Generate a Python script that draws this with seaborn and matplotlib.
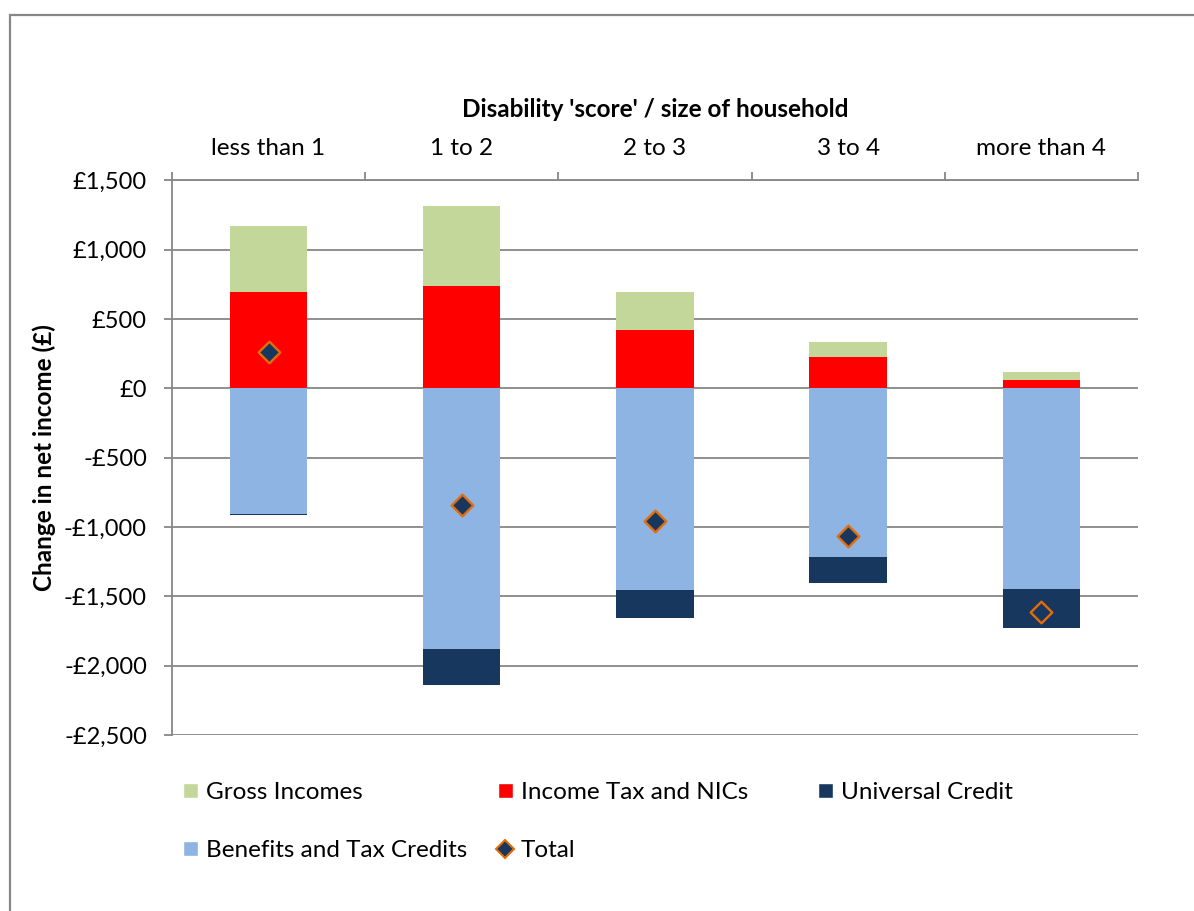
import matplotlib
matplotlib.use("Agg")
import matplotlib.pyplot as plt
import numpy as np
import seaborn as sns
from matplotlib.lines import Line2D
from matplotlib.patches import Patch, Rectangle
from matplotlib.ticker import FuncFormatter

# values (GBP per household)
categories = ["less than 1", "1 to 2", "2 to 3", "3 to 4", "more than 4"]
gross_incomes = [480, 576, 276, 113, 57]
income_tax_nics = [693, 736, 422, 225, 60]
benefits_tax_credits = [-906, -1882, -1453, -1218, -1446]
universal_credit = [-8, -259, -202, -182, -278]
total = [261, -839, -959, -1065, -1609]

GREEN = "#C4D79B"
RED = "#FF0000"
BLUE = "#8DB4E2"
NAVY = "#17375E"
ORANGE = "#E46C0A"
GRID = "#878787"

sns.set_style("white")
plt.rcParams["font.family"] = ["Lato", "DejaVu Sans"]
plt.rcParams["text.color"] = "black"
plt.rcParams["xtick.color"] = "black"
plt.rcParams["ytick.color"] = "black"
plt.rcParams["axes.labelcolor"] = "black"

fig = plt.figure(figsize=(11.94, 9.11), dpi=100)
ax = fig.add_axes([0.144, 0.193, 0.809, 0.609])

# stacked bars: draw cumulative heights first, then the inner segment on top
pos_top = np.array(income_tax_nics) + np.array(gross_incomes)
neg_bottom = np.array(benefits_tax_credits) + np.array(universal_credit)

bar_kw = dict(width=0.4, saturation=1, errorbar=None, ax=ax, linewidth=0)
sns.barplot(x=categories, y=pos_top, color=GREEN, **bar_kw)
sns.barplot(x=categories, y=income_tax_nics, color=RED, **bar_kw)
sns.barplot(x=categories, y=neg_bottom, color=NAVY, **bar_kw)
sns.barplot(x=categories, y=benefits_tax_credits, color=BLUE, **bar_kw)

sns.stripplot(x=categories, y=total, jitter=False, marker="D", size=11,
              color=NAVY, edgecolor=ORANGE, linewidth=1.7, ax=ax, zorder=5)

ax.set_ylim(-2500, 1500)
ax.set_xlim(-0.5, 4.5)
ax.set_yticks(np.arange(-2500, 1501, 500))
ax.yaxis.set_major_formatter(FuncFormatter(
    lambda v, _: f"-£{abs(v):,.0f}" if v < 0 else f"£{v:,.0f}"))
ax.yaxis.grid(True, color=GRID, linewidth=1.3)
ax.set_axisbelow(True)

# category axis on top, ticks between the groups
ax.xaxis.tick_top()
ax.xaxis.set_label_position("top")
ax.set_xticks(np.arange(-0.5, 5, 1))
ax.set_xticklabels([])
ax.set_xticks(range(len(categories)), minor=True)
ax.set_xticklabels(categories, minor=True)
ax.tick_params(axis="x", which="major", direction="out", length=6,
               color=GRID, width=1.3, top=True, bottom=False)
ax.tick_params(axis="x", which="minor", length=0, pad=15.5, labelsize=17.5,
               top=True, bottom=False)
ax.tick_params(axis="y", direction="out", length=6, color=GRID, width=1.3,
               left=True, labelsize=17, pad=12)

for side in ["right", "bottom"]:
    ax.spines[side].set_visible(False)
for side in ["left", "top"]:
    ax.spines[side].set_color(GRID)
    ax.spines[side].set_linewidth(1.3)

ax.set_xlabel("Disability 'score' / size of household", fontsize=17.5,
              fontweight="bold", labelpad=15)
ax.set_ylabel("Change in net income (£)", fontsize=17.5, fontweight="bold",
              labelpad=6)

# outer chart border (runs off the right and bottom edges)
fig.add_artist(Rectangle((10 / 1194, -0.1), 1.2, 1.1 - 15 / 911,
                         transform=fig.transFigure, fill=False,
                         edgecolor=GRID, linewidth=1.6))

# legend, laid out in fixed-width columns like the original
h_gross = Patch(facecolor=GREEN, label="Gross Incomes")
h_ben = Patch(facecolor=BLUE, label="Benefits and Tax Credits")
h_tax = Patch(facecolor=RED, label="Income Tax and NICs")
h_tot = Line2D([], [], marker="D", linestyle="none", markersize=9,
               markerfacecolor=NAVY, markeredgecolor=ORANGE,
               markeredgewidth=1.5, label="Total")
h_uc = Patch(facecolor=NAVY, label="Universal Credit")

leg_kw = dict(loc="upper left", frameon=False, fontsize=17.5,
              handlelength=0.6, handleheight=0.6, handletextpad=0.35,
              labelspacing=1.53, borderpad=0, borderaxespad=0)
for handles, x in [([h_gross, h_ben], 183), ([h_tax, h_tot], 498),
                   ([h_uc], 818)]:
    fig.legend(handles=handles, bbox_to_anchor=(x / 1194, 1 - 782 / 911),
               **leg_kw)

fig.savefig("out.png", dpi=100)
